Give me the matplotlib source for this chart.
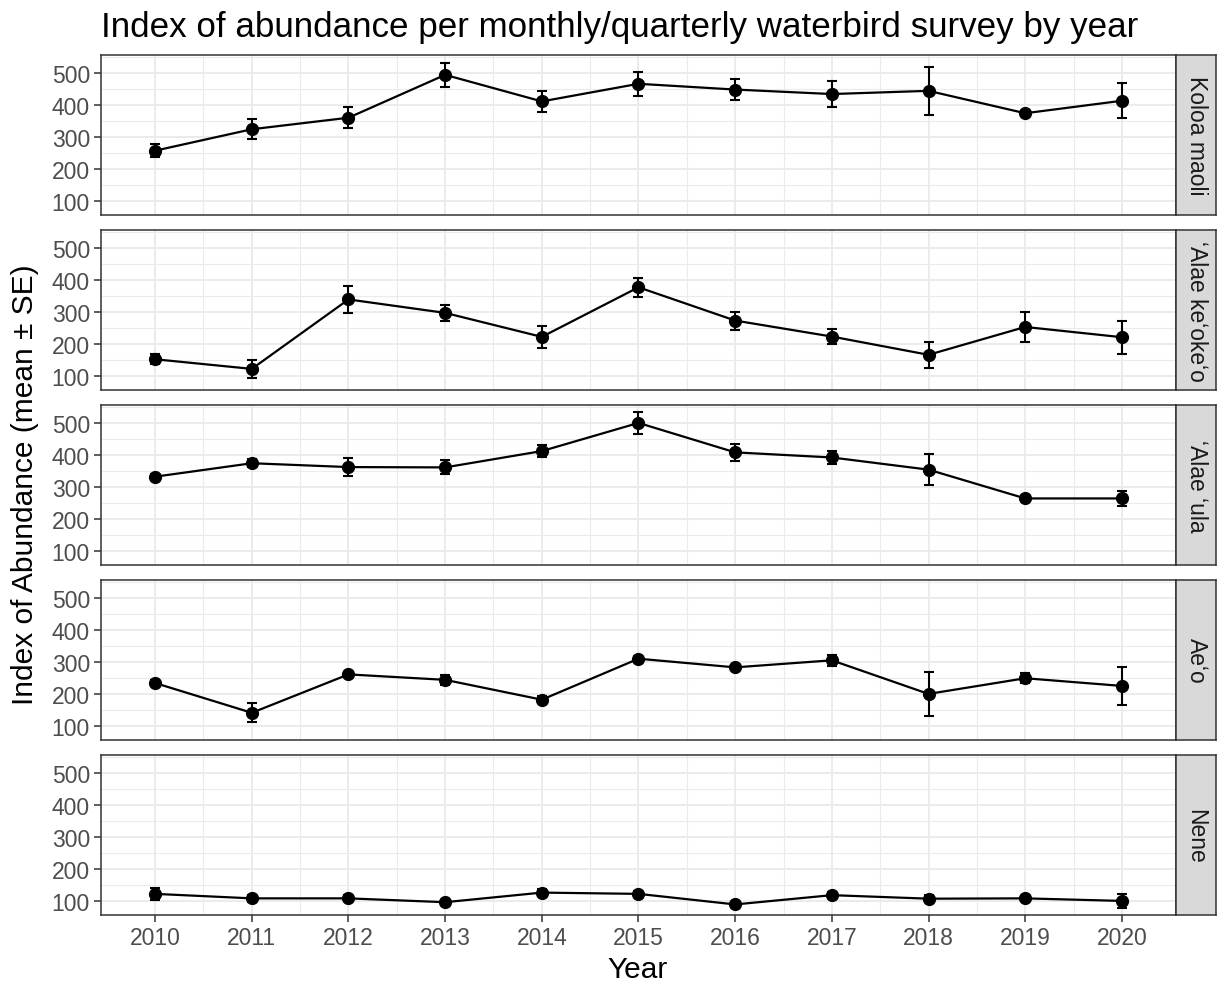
import matplotlib
matplotlib.use("Agg")
import matplotlib.pyplot as plt
import numpy as np

plt.rcParams['font.family'] = ['Liberation Sans', 'DejaVu Sans']

years = [2010, 2011, 2012, 2013, 2014, 2015, 2016, 2017, 2018, 2019, 2020]

species = ["Koloa maoli", "\u02bbAlae ke\u02bboke\u02bbo", "\u02bbAlae \u02bbula", "Ae\u02bbo", "Nene"]

koloa_mean = [257, 324, 360, 494, 411, 466, 448, 434, 444, 374, 413]
koloa_se = [21, 31, 32, 38, 34, 37, 32, 42, 75, 5, 54]

keokeo_mean = [152, 122, 339, 297, 222, 377, 273, 223, 166, 253, 221]
keokeo_se = [15, 28, 41, 25, 35, 30, 28, 23, 41, 48, 52]

ula_mean = [332, 374, 362, 361, 412, 500, 408, 392, 354, 264, 264]
ula_se = [8, 13, 27, 22, 19, 35, 27, 20, 49, 7, 23]

aeo_mean = [234, 141, 261, 244, 182, 310, 283, 305, 200, 249, 225]
aeo_se = [8, 30, 8, 15, 11, 9, 7, 18, 68, 16, 59]

nene_mean = [122, 108, 108, 96, 126, 122, 89, 118, 107, 108, 100]
nene_se = [19, 12, 9, 8, 10, 8, 7, 9, 10, 8, 22]

means = [koloa_mean, keokeo_mean, ula_mean, aeo_mean, nene_mean]
ses = [koloa_se, keokeo_se, ula_se, aeo_se, nene_se]

y_ticks = [100, 200, 300, 400, 500]

W, H = 1217, 987
fig = plt.figure(figsize=(W / 100, H / 100), dpi=100)

left_px, right_px = 101, 1176
strip_right_px = 1217
panel_tops = [56, 231, 406, 581, 756]
panel_h = 160

grid_col = "#EBEBEB"
border_col = "#333333"
tick_col = "#4D4D4D"

for i, (name, m, s) in enumerate(zip(species, means, ses)):
    top = panel_tops[i]
    ax = fig.add_axes([left_px / W, 1 - (top + panel_h) / H,
                       (right_px - left_px) / W, panel_h / H])
    ax.set_xlim(2009.44, 2020.56)
    ax.set_ylim(56, 556)
    ax.set_yticks(y_ticks)
    ax.set_yticks([150, 250, 350, 450, 550], minor=True)
    ax.set_xticks(years)
    ax.set_xticks([y + 0.5 for y in years[:-1]], minor=True)
    ax.grid(which='major', color=grid_col, linewidth=1.4, zorder=0)
    ax.grid(which='minor', color=grid_col, linewidth=0.8, zorder=0)
    ax.set_axisbelow(True)
    for sp in ax.spines.values():
        sp.set_color(border_col)
        sp.set_linewidth(1.1)
    ax.tick_params(axis='both', which='minor', length=0)
    ax.tick_params(axis='both', which='major', color=border_col, length=5,
                   width=1.1, labelcolor=tick_col, labelsize=16.5, pad=3)
    if i < 4:
        ax.tick_params(axis='x', which='major', length=0, labelbottom=False)
    ax.errorbar(years, m, yerr=s, color='black', linewidth=1.6, marker='o',
                markersize=8.5, capsize=3.6, capthick=1.5, elinewidth=1.5,
                zorder=3)
    # facet strip
    sax = fig.add_axes([right_px / W, 1 - (top + panel_h) / H,
                        (strip_right_px - right_px - 1) / W, panel_h / H])
    sax.set_facecolor("#D9D9D9")
    sax.set_xticks([])
    sax.set_yticks([])
    for sp in sax.spines.values():
        sp.set_color(border_col)
        sp.set_linewidth(1.1)
    sax.text(0.5, 0.5, name, rotation=-90, ha='center', va='center',
             fontsize=16.5, color="#1A1A1A", transform=sax.transAxes)

fig.text(101 / W, 1 - 27 / H,
         "Index of abundance per monthly/quarterly waterbird survey by year",
         fontsize=25.2, ha='left', va='center', color='black')
fig.text(25 / W, 1 - 485 / H, "Index of Abundance (mean \u00b1 SE)",
         rotation=90, ha='center', va='center', fontsize=21.5, color='black')
fig.text(638 / W, 1 - 970 / H, "Year", ha='center', va='center',
         fontsize=21.5, color='black')

fig.savefig("out.png", dpi=100, facecolor='white')
